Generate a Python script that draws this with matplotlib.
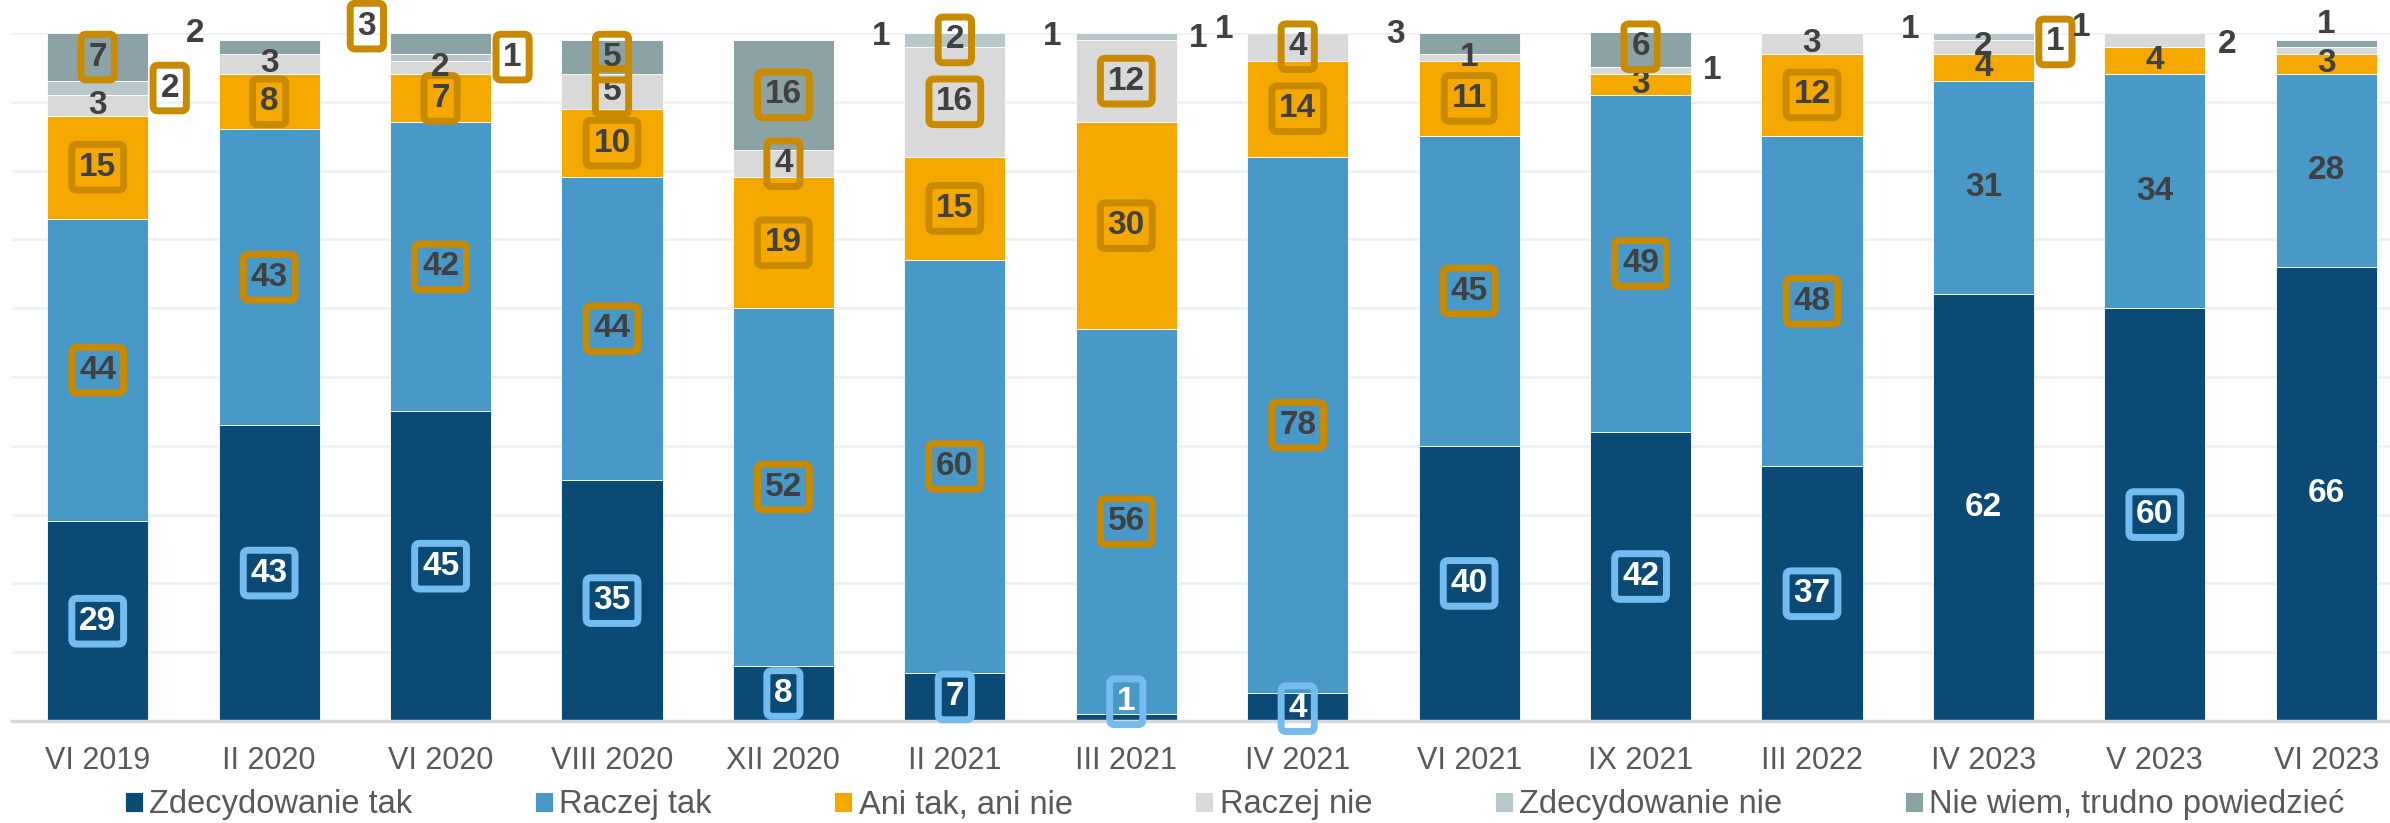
import matplotlib.pyplot as plt
import numpy as np

# Survey waves
waves = ['VI 2019', 'II 2020', 'VI 2020', 'VIII 2020', 'XII 2020', 'II 2021', 'III 2021',
         'IV 2021', 'VI 2021', 'IX 2021', 'III 2022', 'IV 2023', 'V 2023', 'VI 2023']

# Answer shares in %, stacked from the bottom
zdecydowanie_tak = [29, 43, 45, 35, 8, 7, 1, 4, 40, 42, 37, 62, 60, 66]
raczej_tak = [44, 43, 42, 44, 52, 60, 56, 78, 45, 49, 48, 31, 34, 28]
ani_tak_ani_nie = [15, 8, 7, 10, 19, 15, 30, 14, 11, 3, 12, 4, 4, 3]
raczej_nie = [3, 3, 2, 5, 4, 16, 12, 4, 1, 1, 3, 2, 2, 1]
zdecydowanie_nie = [2, 0, 1, 0, 0, 2, 1, 0, 0, 0, 0, 1, 1, 0]
nie_wiem = [7, 2, 3, 5, 16, 1, 1, 1, 3, 6, 0, 1, 0, 1]

series_names = ['Zdecydowanie tak', 'Raczej tak', 'Ani tak, ani nie', 'Raczej nie',
                'Zdecydowanie nie', 'Nie wiem, trudno powiedzieć']
series = [zdecydowanie_tak, raczej_tak, ani_tak_ani_nie, raczej_nie, zdecydowanie_nie, nie_wiem]

colors = ['#0c4a76', '#4898c8', '#f5a800', '#d9d9d9', '#b8c7c9', '#8ca3a6']
text_colors = ['white', '#404040', '#404040', '#404040', '#404040', '#404040']

GOLD = '#c98a00'
LIGHT_BLUE = '#74bcf0'

# (bar, series) -> highlighted label box colour
gold_boxes = [(0, 1), (0, 2), (0, 4), (0, 5), (1, 1), (1, 2), (2, 1), (2, 2), (2, 4), (2, 5),
              (3, 1), (3, 2), (3, 3), (3, 5), (4, 1), (4, 2), (4, 3), (4, 5),
              (5, 1), (5, 2), (5, 3), (5, 4), (6, 1), (6, 2), (6, 3), (7, 1), (7, 2), (7, 3),
              (8, 1), (8, 2), (9, 1), (9, 5), (10, 1), (10, 2), (11, 4)]
blue_boxes = [(i, 0) for i in range(14) if i not in (11, 13)]

# labels that sit outside their bar: (bar, series) -> (side, y or None = segment middle)
outside = {
    (0, 4): ('right', None), (1, 5): ('left', 100), (2, 5): ('left', 101),
    (2, 4): ('right', None), (5, 5): ('left', 99.5), (6, 5): ('left', 99.5),
    (6, 4): ('right', 99.2), (7, 5): ('left', 100.5), (8, 5): ('left', 99.8),
    (9, 3): ('right', None), (11, 5): ('left', 100.5), (11, 4): ('right', 98.7),
    (12, 4): ('left', 100.8), (12, 3): ('right', 98.3), (13, 5): ('above', 101.3),
    (13, 3): ('right', 98.3),
}
nudge = {(6, 0): 2.8, (7, 0): 1.8}

plt.rcParams['font.family'] = ['Liberation Sans', 'DejaVu Sans']

fig = plt.figure(figsize=(23.9, 8.23), dpi=100)
ax = fig.add_axes([12 / 2390, 102 / 823, 2400 / 2390, 688 / 823])

x = np.arange(len(waves))
bottom = np.zeros(len(waves))
for k, (name, vals) in enumerate(zip(series_names, series)):
    vals = np.array(vals, dtype=float)
    ax.bar(x, vals, 0.59, bottom=bottom, color=colors[k], label=name,
           edgecolor='white', linewidth=0.6, zorder=2)
    for i, v in enumerate(vals):
        if v <= 0:
            continue
        xi, yi = x[i], bottom[i] + v / 2
        tc = text_colors[k]
        if (i, k) in outside:
            side, yy = outside[(i, k)]
            if yy is not None:
                yi = yy
            xi += {'left': -0.43, 'right': 0.42, 'above': 0.0}[side]
            tc = '#404040'
        if (i, k) in nudge:
            yi = nudge[(i, k)]
        box = None
        if (i, k) in gold_boxes:
            box = dict(boxstyle='round,pad=0.22,rounding_size=0.15', fc='none', ec=GOLD, lw=5)
        elif (i, k) in blue_boxes:
            box = dict(boxstyle='round,pad=0.22,rounding_size=0.15', fc='none', ec=LIGHT_BLUE, lw=5)
        ax.text(xi, yi, f'{int(v)}', ha='center', va='center', fontsize=24,
                fontweight='bold', color=tc, bbox=box, zorder=5, clip_on=False)
    bottom += vals

ax.set_xlim(-0.5, len(waves) - 0.5)
ax.set_ylim(0, 100)
ax.set_yticks(np.arange(0, 101, 10))
ax.set_yticklabels([])
ax.tick_params(axis='y', length=0)
ax.grid(axis='y', color='#eef2f6', linewidth=2, zorder=0)
ax.set_axisbelow(True)
ax.set_xticks(x)
ax.set_xticklabels(waves, fontsize=22, color='#595959')
ax.tick_params(axis='x', length=0, pad=18)
for s in ['left', 'right', 'top']:
    ax.spines[s].set_visible(False)
ax.spines['bottom'].set_color('#d9d9d9')
ax.spines['bottom'].set_linewidth(2.5)
ax.spines['bottom'].set_zorder(3)

fig.legend(loc='center', bbox_to_anchor=(0.5166, 0.022), ncol=6, frameon=False,
           fontsize=23.5, labelcolor='#595959', handlelength=0.55, handleheight=0.55,
           handletextpad=0.2, columnspacing=3.75, borderaxespad=0)

fig.savefig('out.png', dpi=100)
